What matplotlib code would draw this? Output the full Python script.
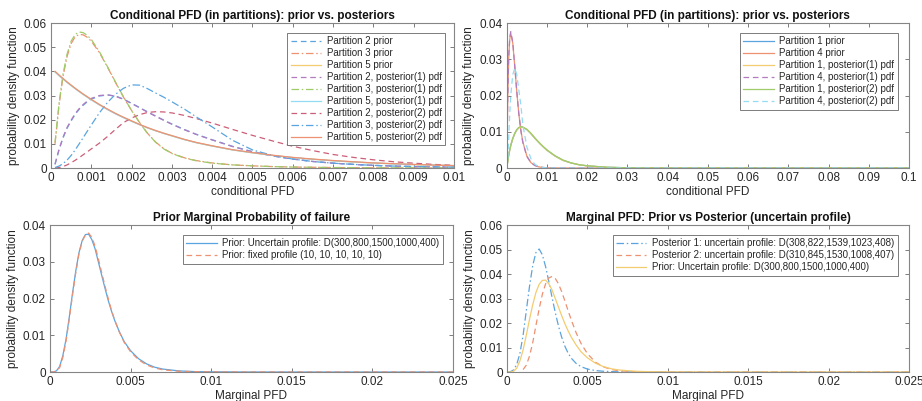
import matplotlib
matplotlib.use("Agg")
import numpy as np
import matplotlib.pyplot as plt
from matplotlib.ticker import FuncFormatter, FixedLocator

plt.rcParams['font.family'] = ['Liberation Sans', 'DejaVu Sans']

# ---------------- data: panel 1 (conditional PFD, partitions 2,3,5) ----------------
cond_x = [0.0001, 0.0002, 0.0003, 0.0004, 0.0005, 0.0006, 0.0007, 0.0008, 0.0009, 0.0010,
          0.0012, 0.0014, 0.0016, 0.0018, 0.0020, 0.0022, 0.0024, 0.0026, 0.0028, 0.0030,
          0.0033, 0.0036, 0.0040, 0.0045, 0.0050, 0.0055, 0.0060, 0.0065, 0.0070, 0.0075,
          0.0080, 0.0085, 0.0090, 0.0095, 0.0100]
p2_prior = [0.0015, 0.0075, 0.0125, 0.0165, 0.0195, 0.0222, 0.0243, 0.0260, 0.0274, 0.0285,
            0.0298, 0.0302, 0.0298, 0.0285, 0.0268, 0.0250, 0.0232, 0.0215, 0.0198, 0.0182,
            0.0160, 0.0140, 0.0117, 0.0090, 0.0068, 0.0050, 0.0037, 0.0027, 0.0020, 0.0015,
            0.0011, 0.0008, 0.0006, 0.0004, 0.0003]
p3_prior = [0.0100, 0.0260, 0.0380, 0.0462, 0.0515, 0.0543, 0.0553, 0.0551, 0.0541, 0.0525,
            0.0478, 0.0418, 0.0354, 0.0293, 0.0238, 0.0188, 0.0143, 0.0107, 0.0080, 0.0061,
            0.0043, 0.0031, 0.0021, 0.0013, 0.0009, 0.0006, 0.0004, 0.0003, 0.0002, 0.00014,
            0.0001, 0.00007, 0.00005, 0.00003, 0.00002]
p5_prior = [0.0398, 0.0383, 0.0369, 0.0355, 0.0342, 0.0329, 0.0317, 0.0305, 0.0294, 0.0283,
            0.0262, 0.0243, 0.0225, 0.0209, 0.0194, 0.0180, 0.0166, 0.0154, 0.0143, 0.0133,
            0.0118, 0.0105, 0.0091, 0.0075, 0.0063, 0.0052, 0.0043, 0.0036, 0.0030, 0.0025,
            0.0021, 0.0017, 0.0014, 0.0012, 0.0010]
p2_post1 = [0.0016, 0.0078, 0.0128, 0.0168, 0.0198, 0.0225, 0.0246, 0.0263, 0.0277, 0.0288,
            0.0300, 0.0303, 0.0297, 0.0284, 0.0267, 0.0249, 0.0231, 0.0214, 0.0197, 0.0181,
            0.0159, 0.0139, 0.0116, 0.0089, 0.0067, 0.0050, 0.0037, 0.0027, 0.0020, 0.0015,
            0.0011, 0.0008, 0.0006, 0.0004, 0.0003]
p3_post1 = [0.0105, 0.0268, 0.0390, 0.0472, 0.0525, 0.0553, 0.0563, 0.0560, 0.0549, 0.0532,
            0.0482, 0.0420, 0.0356, 0.0294, 0.0238, 0.0187, 0.0142, 0.0106, 0.0079, 0.0060,
            0.0042, 0.0030, 0.0020, 0.0013, 0.0009, 0.0006, 0.0004, 0.0003, 0.0002, 0.00014,
            0.0001, 0.00007, 0.00005, 0.00003, 0.00002]
p5_post1 = [0.0397, 0.0382, 0.0368, 0.0354, 0.0341, 0.0328, 0.0316, 0.0304, 0.0293, 0.0282,
            0.0261, 0.0242, 0.0224, 0.0208, 0.0193, 0.0179, 0.0166, 0.0154, 0.0143, 0.0133,
            0.0118, 0.0105, 0.0091, 0.0075, 0.0063, 0.0052, 0.0043, 0.0036, 0.0030, 0.0025,
            0.0021, 0.0017, 0.0014, 0.0012, 0.0010]
p2_post2 = [0.0000, 0.0002, 0.0006, 0.0013, 0.0022, 0.0032, 0.0043, 0.0055, 0.0067, 0.0079,
            0.0103, 0.0130, 0.0160, 0.0188, 0.0207, 0.0221, 0.0230, 0.0233, 0.0232, 0.0228,
            0.0218, 0.0205, 0.0186, 0.0160, 0.0135, 0.0112, 0.0090, 0.0072, 0.0056, 0.0044,
            0.0034, 0.0026, 0.0020, 0.0015, 0.0011]
p3_post2 = [0.0002, 0.0008, 0.0018, 0.0033, 0.0052, 0.0075, 0.0100, 0.0126, 0.0152, 0.0178,
            0.0228, 0.0271, 0.0305, 0.0330, 0.0344, 0.0343, 0.0328, 0.0310, 0.0293, 0.0274,
            0.0245, 0.0212, 0.0170, 0.0115, 0.0075, 0.0052, 0.0037, 0.0027, 0.0020, 0.0015,
            0.0011, 0.0008, 0.0006, 0.0005, 0.0004]
p5_post2 = [0.0400, 0.0385, 0.0370, 0.0356, 0.0343, 0.0330, 0.0318, 0.0306, 0.0295, 0.0284,
            0.0263, 0.0244, 0.0226, 0.0210, 0.0195, 0.0180, 0.0167, 0.0155, 0.0144, 0.0134,
            0.0119, 0.0106, 0.0092, 0.0076, 0.0064, 0.0053, 0.0044, 0.0037, 0.0031, 0.0026,
            0.0021, 0.0018, 0.0015, 0.0012, 0.0010]

# ---------------- data: panel 2 (conditional PFD, partitions 1,4) ----------------
cond2_x = [0, 0.00025, 0.0005, 0.00075, 0.001, 0.0015, 0.002, 0.0025, 0.003, 0.0035,
           0.004, 0.005, 0.006, 0.007, 0.008, 0.009, 0.01, 0.012, 0.014, 0.016,
           0.018, 0.02, 0.025, 0.03, 0.035, 0.04, 0.05, 0.06, 0.07, 0.08, 0.09, 0.1]
p1_prior = [0, 0.0018, 0.0036, 0.0050, 0.0062, 0.0081, 0.0095, 0.0105, 0.0111, 0.0113,
            0.0112, 0.0106, 0.0095, 0.0082, 0.0070, 0.0059, 0.0049, 0.0033, 0.0021, 0.0014,
            0.0009, 0.0006, 0.0002, 0.00007, 0.00002, 0, 0, 0, 0, 0, 0, 0]
p4_prior = [0, 0.0190, 0.0305, 0.0355, 0.0372, 0.0345, 0.0280, 0.0210, 0.0150, 0.0105,
            0.0072, 0.0033, 0.0015, 0.0007, 0.0003, 0.00015, 0.00007, 0.00002, 0, 0,
            0, 0, 0, 0, 0, 0, 0, 0, 0, 0, 0, 0]
p1_post1 = [0, 0.0018, 0.0036, 0.0050, 0.0062, 0.0081, 0.0095, 0.0105, 0.0111, 0.0113,
            0.0112, 0.0106, 0.0095, 0.0082, 0.0070, 0.0059, 0.0049, 0.0033, 0.0021, 0.0014,
            0.0009, 0.0006, 0.0002, 0.00007, 0.00002, 0, 0, 0, 0, 0, 0, 0]
p4_post1 = [0, 0.0195, 0.0310, 0.0360, 0.0376, 0.0347, 0.0281, 0.0210, 0.0150, 0.0104,
            0.0071, 0.0032, 0.0015, 0.0007, 0.0003, 0.00015, 0.00007, 0.00002, 0, 0,
            0, 0, 0, 0, 0, 0, 0, 0, 0, 0, 0, 0]
p1_post2 = [0, 0.0018, 0.0036, 0.0050, 0.0063, 0.0082, 0.0096, 0.0106, 0.0112, 0.0114,
            0.0113, 0.0107, 0.0096, 0.0083, 0.0071, 0.0060, 0.0050, 0.0034, 0.0022, 0.0014,
            0.0009, 0.0006, 0.0002, 0.00007, 0.00002, 0, 0, 0, 0, 0, 0, 0]
p4_post2 = [0, 0.0025, 0.0085, 0.0150, 0.0200, 0.0258, 0.0275, 0.0258, 0.0215, 0.0175,
            0.0120, 0.0058, 0.0026, 0.0010, 0.0004, 0.00015, 0.00006, 0.00001, 0, 0,
            0, 0, 0, 0, 0, 0, 0, 0, 0, 0, 0, 0]

# ---------------- data: panels 3 & 4 (marginal PFD) ----------------
marg_x = [0, 0.0002, 0.0004, 0.0006, 0.0008, 0.001, 0.0012, 0.0014, 0.0016, 0.0018,
          0.002, 0.0022, 0.0024, 0.0026, 0.0028, 0.003, 0.0032, 0.0034, 0.0036, 0.0038,
          0.004, 0.0043, 0.0046, 0.005, 0.0055, 0.006, 0.0065, 0.007, 0.008, 0.009,
          0.01, 0.012, 0.015, 0.02, 0.025]
prior_uncertain = [0, 0.0000, 0.0003, 0.0015, 0.0045, 0.0090, 0.0150, 0.0215, 0.0275, 0.0325,
                   0.0358, 0.0374, 0.0375, 0.0360, 0.0335, 0.0300, 0.0265, 0.0230, 0.0197, 0.0168,
                   0.0142, 0.0110, 0.0083, 0.0058, 0.0036, 0.0022, 0.0013, 0.0008, 0.0003, 0.0001,
                   0.00005, 0.00001, 0, 0, 0]
prior_fixed = [0, 0.0000, 0.0002, 0.0012, 0.0040, 0.0085, 0.0145, 0.0210, 0.0270, 0.0322,
               0.0356, 0.0373, 0.0378, 0.0366, 0.0342, 0.0308, 0.0272, 0.0236, 0.0202, 0.0170,
               0.0143, 0.0109, 0.0081, 0.0055, 0.0033, 0.0019, 0.0011, 0.0006, 0.0002, 0.0001,
               0.00003, 0, 0, 0, 0]
post1_uncertain = [0, 0.0001, 0.0008, 0.0030, 0.0075, 0.0150, 0.0250, 0.0350, 0.0435, 0.0488,
                   0.0502, 0.0478, 0.0430, 0.0370, 0.0305, 0.0243, 0.0188, 0.0142, 0.0105, 0.0077,
                   0.0056, 0.0035, 0.0022, 0.0012, 0.0006, 0.0003, 0.00015, 0.00008, 0.00002, 0,
                   0, 0, 0, 0, 0]
post2_uncertain = [np.nan, np.nan, np.nan, np.nan, np.nan, 0.0010, 0.0028, 0.0065, 0.0120, 0.0190,
                   0.0258, 0.0318, 0.0360, 0.0384, 0.0390, 0.0382, 0.0360, 0.0328, 0.0290, 0.0250,
                   0.0212, 0.0160, 0.0117, 0.0075, 0.0040, 0.0021, 0.0010, 0.0005, 0.0001, 0.00003,
                   0, 0, 0, 0, 0]

labels_p1 = ["Partition 2 prior", "Partition 3 prior", "Partition 5 prior",
             "Partition 2, posterior(1) pdf", "Partition 3, posterior(1) pdf",
             "Partition 5, posterior(1) pdf", "Partition 2, posterior(2) pdf",
             "Partition 3, posterior(2) pdf", "Partition 5, posterior(2) pdf"]
labels_p2 = ["Partition 1 prior", "Partition 4 prior", "Partition 1, posterior(1) pdf",
             "Partition 4, posterior(1) pdf", "Partition 1, posterior(2) pdf",
             "Partition 4, posterior(2) pdf"]
labels_p3 = ["Prior: Uncertain profile: D(300,800,1500,1000,400)",
             "Prior: fixed profile (10, 10, 10, 10, 10)"]
labels_p4 = ["Posterior 1: uncertain profile: D(308,822,1539,1023,408)",
             "Posterior 2: uncertain profile: D(310,845,1530,1008,407)",
             "Prior: Uncertain profile: D(300,800,1500,1000,400)"]

# MATLAB-like colour order (as rendered, light)
C1 = '#5aa5e0'; C2 = '#ee9171'; C3 = '#f3cc70'; C4 = '#b27bc0'
C5 = '#9fcb68'; C6 = '#94dbf4'; C7 = '#cc5f78'

DASH = (0, (4.5, 3))
DASHDOT = (0, (6, 2.2, 1.2, 2.2))
LW = 0.9

fig = plt.figure(figsize=(9.22, 4.01), dpi=100)
ax1 = fig.add_axes([0.0553, 0.5810, 0.4371, 0.3616])
ax2 = fig.add_axes([0.5496, 0.5810, 0.4363, 0.3616])
ax3 = fig.add_axes([0.0542, 0.0723, 0.4371, 0.3666])
ax4 = fig.add_axes([0.5499, 0.0723, 0.4360, 0.3666])

fmt = FuncFormatter(lambda v, p: f"{round(v, 6):g}")


def style(ax, xlim, ylim, xt, yt, title, xlabel):
    ax.set_xlim(*xlim)
    ax.set_ylim(*ylim)
    ax.xaxis.set_major_locator(FixedLocator(xt))
    ax.yaxis.set_major_locator(FixedLocator(yt))
    ax.xaxis.set_major_formatter(fmt)
    ax.yaxis.set_major_formatter(fmt)
    ax.tick_params(direction='in', top=True, right=True, length=3, width=0.6,
                   color='#666666', labelsize=8.5, labelcolor='#262626', pad=3)
    for s in ax.spines.values():
        s.set_color('#858585')
        s.set_linewidth(0.8)
    ax.set_title(title, fontsize=8.5, fontweight='bold', pad=3, color='#111111')
    ax.set_xlabel(xlabel, fontsize=8.5, labelpad=1, color='#262626')
    ax.set_ylabel('probability density function', fontsize=8.5, labelpad=3, color='#262626')


def legend(ax, anchor):
    lg = ax.legend(loc='upper right', bbox_to_anchor=anchor, borderaxespad=0,
                   fontsize=7, handlelength=3.1, handletextpad=0.6, labelspacing=0.2,
                   borderpad=0.35, fancybox=False, framealpha=1, edgecolor='#666666')
    lg.get_frame().set_linewidth(0.6)
    for t in lg.get_texts():
        t.set_color('#262626')


# Panel 1
ax1.plot(cond_x, p2_prior, color=C1, ls=DASH, lw=LW, label=labels_p1[0])
ax1.plot(cond_x, p3_prior, color=C2, ls=DASHDOT, lw=LW, label=labels_p1[1])
ax1.plot(cond_x, p5_prior, color=C3, ls='-', lw=LW, label=labels_p1[2])
ax1.plot(cond_x, p2_post1, color=C4, ls=DASH, lw=LW, label=labels_p1[3])
ax1.plot(cond_x, p3_post1, color=C5, ls=DASHDOT, lw=LW, label=labels_p1[4])
ax1.plot(cond_x, p5_post1, color=C6, ls='-', lw=LW, label=labels_p1[5])
ax1.plot(cond_x, p2_post2, color=C7, ls=DASH, lw=LW, label=labels_p1[6])
ax1.plot(cond_x, p3_post2, color=C1, ls=DASHDOT, lw=LW, label=labels_p1[7])
ax1.plot(cond_x, p5_post2, color=C2, ls='-', lw=LW, label=labels_p1[8])
style(ax1, (0, 0.01), (0, 0.06), [i * 0.001 for i in range(11)],
      [i * 0.01 for i in range(7)],
      'Conditional PFD (in partitions): prior vs. posteriors', 'conditional PFD')
legend(ax1, (0.978, 0.931))

# Panel 2
ax2.plot(cond2_x, p1_prior, color=C1, ls='-', lw=LW, label=labels_p2[0])
ax2.plot(cond2_x, p4_prior, color=C2, ls='-', lw=LW, label=labels_p2[1])
ax2.plot(cond2_x, p1_post1, color=C3, ls='-', lw=LW, label=labels_p2[2])
ax2.plot(cond2_x, p4_post1, color=C4, ls=DASH, lw=LW, label=labels_p2[3])
ax2.plot(cond2_x, p1_post2, color=C5, ls='-', lw=LW, label=labels_p2[4])
ax2.plot(cond2_x, p4_post2, color=C6, ls=DASH, lw=LW, label=labels_p2[5])
style(ax2, (0, 0.1), (0, 0.04), [i * 0.01 for i in range(11)],
      [i * 0.01 for i in range(5)],
      'Conditional PFD (in partitions): prior vs. posteriors', 'conditional PFD')
legend(ax2, (0.972, 0.931))

# Panel 3
ax3.plot(marg_x, prior_uncertain, color=C1, ls='-', lw=LW, label=labels_p3[0])
ax3.plot(marg_x, prior_fixed, color=C2, ls=DASH, lw=LW, label=labels_p3[1])
style(ax3, (0, 0.025), (0, 0.04), [i * 0.005 for i in range(6)],
      [i * 0.01 for i in range(5)],
      'Prior Marginal Probability of failure', 'Marginal PFD')
legend(ax3, (0.975, 0.932))

# Panel 4
ax4.plot(marg_x, post1_uncertain, color=C1, ls=DASHDOT, lw=LW, label=labels_p4[0])
ax4.plot(marg_x, post2_uncertain, color=C2, ls=DASH, lw=LW, label=labels_p4[1])
ax4.plot(marg_x, prior_uncertain, color=C3, ls='-', lw=LW, label=labels_p4[2])
style(ax4, (0, 0.025), (0, 0.06), [i * 0.005 for i in range(6)],
      [i * 0.01 for i in range(7)],
      'Marginal PFD: Prior vs Posterior (uncertain profile)', 'Marginal PFD')
legend(ax4, (0.972, 0.932))

fig.savefig('out.png', dpi=100)
